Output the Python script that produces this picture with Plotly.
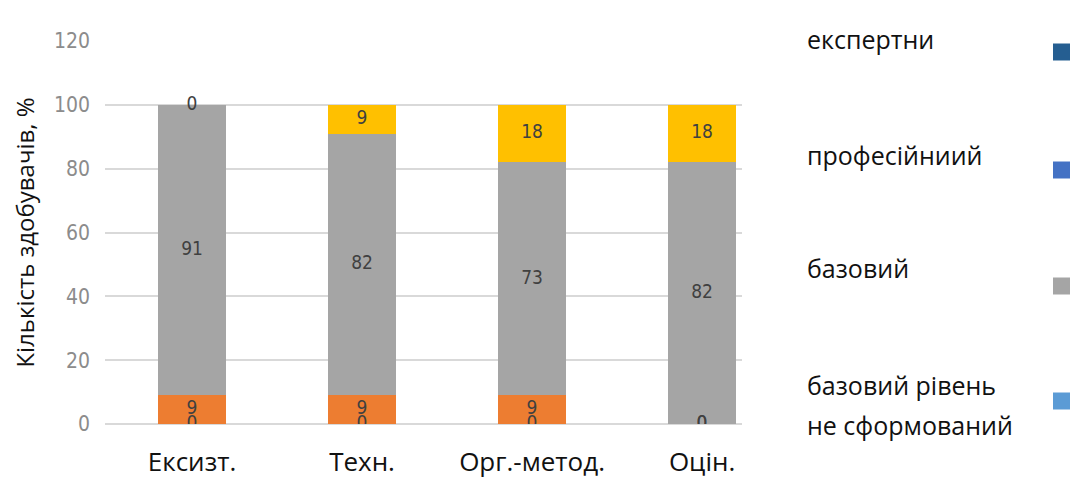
import plotly.graph_objects as go

# Categories and stacked shares (%), bottom segment first
categories = ["Ексизт.", "Техн.", "Орг.-метод.", "Оцін."]
seg_none = [0, 0, 0, 0]
seg_orange = [9, 9, 9, 0]
seg_gray = [91, 82, 73, 82]
seg_yellow = [0, 9, 18, 18]

series_values = [seg_none, seg_orange, seg_gray, seg_yellow]
series_colors = ["#5B9BD5", "#ED7D31", "#A5A5A5", "#FFC000"]

# Legend entries as printed beside the chart
legend_names = ["експертни", "професійниий", "базовий", "базовий рівень\nне сформований"]
legend_colors = ["#255E91", "#4472C4", "#A5A5A5", "#5B9BD5"]

y_ticks = [0, 20, 40, 60, 80, 100, 120]

NARROW = "DejaVu Sans Condensed, Liberation Sans Narrow, sans-serif"
MAIN = "Open Sans, sans-serif"

W, H = 1074, 498
L, R, T, B = 105, 332, 41, 74
x_pos = list(range(len(categories)))

fig = go.Figure()

for vals, col in zip(series_values, series_colors):
    fig.add_trace(go.Bar(
        x=x_pos, y=vals, marker=dict(color=col, line=dict(width=0)),
        width=0.4, showlegend=False, hoverinfo="skip",
    ))

# Value labels centred in each segment
base = [0] * len(categories)
for vals in series_values:
    mids = [b + v / 2 for b, v in zip(base, vals)]
    fig.add_trace(go.Scatter(
        x=x_pos, y=mids, mode="text", text=[str(v) for v in vals],
        textfont=dict(family=NARROW, size=19, color="#404040"),
        showlegend=False, hoverinfo="skip",
    ))
    base = [b + v for b, v in zip(base, vals)]

# Legend: text on the left, colour swatch on the right
plot_w = W - L - R
plot_h = H - T - B


def px_x(px):
    return (px - L) / plot_w


def px_y(py):
    return (H - B - py) / plot_h


text_rows = [[39], [155], [268], [385, 425]]
swatch_rows = [52, 170, 286, 401]
for name, col, rows, sy in zip(legend_names, legend_colors, text_rows, swatch_rows):
    for line, ty in zip(name.split("\n"), rows):
        fig.add_annotation(
            x=px_x(805), y=px_y(ty), xref="paper", yref="paper",
            text=line, showarrow=False, xanchor="left", yanchor="middle",
            font=dict(family=MAIN, size=25, color="#111111"),
        )
    fig.add_shape(
        type="rect", xref="paper", yref="paper",
        x0=px_x(1053), x1=px_x(1070), y0=px_y(sy + 8.5), y1=px_y(sy - 8.5),
        fillcolor=col, line=dict(width=0),
    )

fig.update_layout(
    width=W, height=H,
    margin=dict(l=L, r=R, t=T, b=B),
    paper_bgcolor="white", plot_bgcolor="white",
    barmode="stack",
    xaxis=dict(
        range=[-0.512, 3.235], tickmode="array", tickvals=x_pos, ticktext=categories,
        showgrid=False, zeroline=False, showline=False, ticks="",
        tickfont=dict(family=MAIN, size=26, color="#111111"),
        ticklabelstandoff=20,
    ),
    yaxis=dict(
        range=[0, 120], tickvals=y_ticks, showgrid=True, gridcolor="#D9D9D9", gridwidth=2,
        zeroline=True, zerolinecolor="#D9D9D9", zerolinewidth=2, showline=False, ticks="",
        tickfont=dict(family=NARROW, size=21, color="#8C8C8C"),
        ticklabelstandoff=14,
        title=dict(text="Кількість здобувачів, %", standoff=12,
                   font=dict(family=MAIN, size=24, color="#111111")),
    ),
)

fig.write_html("out.html")
